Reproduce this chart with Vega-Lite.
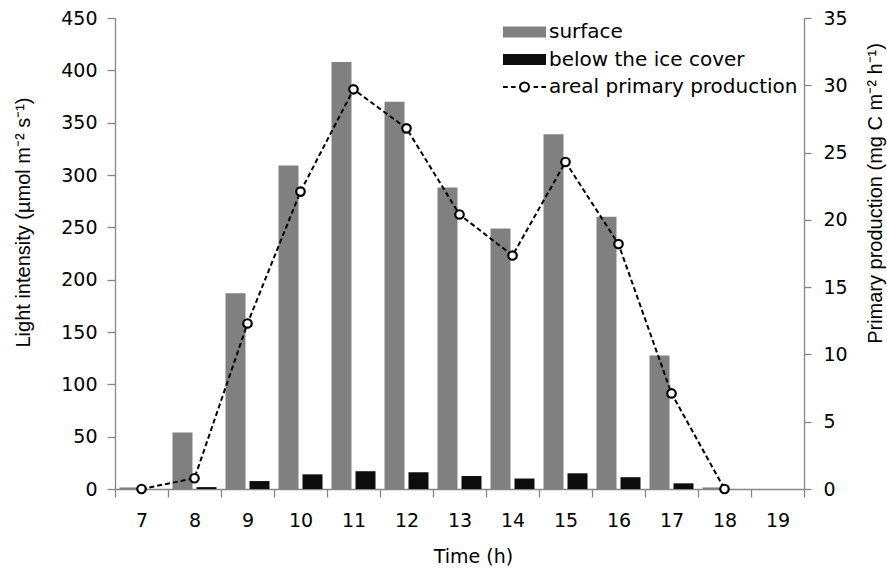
{
  "$schema": "https://vega.github.io/schema/vega-lite/v6.json",
  "width": 689,
  "height": 471,
  "autosize": {"type": "none"},
  "padding": {"left": 115, "top": 18, "right": 83, "bottom": 81},
  "background": "white",
  "datasets": {
    "light": [
      {"time": "7", "series": "surface", "light": 1.5},
      {"time": "7", "series": "below the ice cover", "light": 0},
      {"time": "8", "series": "surface", "light": 54},
      {"time": "8", "series": "below the ice cover", "light": 1.8},
      {"time": "9", "series": "surface", "light": 187},
      {"time": "9", "series": "below the ice cover", "light": 7.6},
      {"time": "10", "series": "surface", "light": 309},
      {"time": "10", "series": "below the ice cover", "light": 14},
      {"time": "11", "series": "surface", "light": 408},
      {"time": "11", "series": "below the ice cover", "light": 17},
      {"time": "12", "series": "surface", "light": 370},
      {"time": "12", "series": "below the ice cover", "light": 16},
      {"time": "13", "series": "surface", "light": 288},
      {"time": "13", "series": "below the ice cover", "light": 12.4},
      {"time": "14", "series": "surface", "light": 249},
      {"time": "14", "series": "below the ice cover", "light": 10},
      {"time": "15", "series": "surface", "light": 339},
      {"time": "15", "series": "below the ice cover", "light": 15},
      {"time": "16", "series": "surface", "light": 260},
      {"time": "16", "series": "below the ice cover", "light": 11.3},
      {"time": "17", "series": "surface", "light": 127.5},
      {"time": "17", "series": "below the ice cover", "light": 5.4},
      {"time": "18", "series": "surface", "light": 1.5},
      {"time": "18", "series": "below the ice cover", "light": 0}
    ],
    "pp": [
      {"time": "7", "pp": 0},
      {"time": "8", "pp": 0.8},
      {"time": "9", "pp": 12.3},
      {"time": "10", "pp": 22.1},
      {"time": "11", "pp": 29.7},
      {"time": "12", "pp": 26.8},
      {"time": "13", "pp": 20.4},
      {"time": "14", "pp": 17.35},
      {"time": "15", "pp": 24.3},
      {"time": "16", "pp": 18.2},
      {"time": "17", "pp": 7.1},
      {"time": "18", "pp": 0}
    ]
  },
  "config": {
    "view": {"stroke": null},
    "axis": {
      "grid": false,
      "domainColor": "#868686",
      "tickColor": "#868686",
      "domainWidth": 1.3,
      "tickWidth": 1.3,
      "labelColor": "#000000",
      "titleColor": "#000000",
      "labelFont": "DejaVu Sans",
      "labelFontSize": 19,
      "titleFont": "Liberation Sans",
      "titleFontSize": 20,
      "titleFontWeight": "normal"
    },
    "legend": {
      "labelFont": "DejaVu Sans",
      "labelFontSize": 20,
      "labelColor": "#000000",
      "labelLimit": 400
    }
  },
  "layer": [
    {
      "data": {"name": "light"},
      "mark": {"type": "bar"},
      "encoding": {
        "x": {
          "field": "time",
          "type": "ordinal",
          "scale": {
            "domain": ["7", "8", "9", "10", "11", "12", "13", "14", "15", "16", "17", "18", "19"],
            "paddingInner": 0,
            "paddingOuter": 0
          },
          "axis": {
            "title": "Time (h)",
            "titleFont": "DejaVu Sans",
            "titleFontSize": 19,
            "titleX": 358,
            "titleY": 73,
            "titleAlign": "center",
            "titleBaseline": "alphabetic",
            "labelAngle": 0,
            "tickBand": "extent",
            "tickSize": 8,
            "labelPadding": 14
          }
        },
        "xOffset": {
          "field": "series",
          "type": "nominal",
          "scale": {"domain": ["surface", "below the ice cover"], "paddingInner": 0.167, "paddingOuter": 0.1875}
        },
        "y": {
          "field": "light",
          "type": "quantitative",
          "scale": {"domain": [0, 450], "nice": false},
          "axis": {
            "values": [0, 50, 100, 150, 200, 250, 300, 350, 400, 450],
            "title": "Light intensity (µmol m⁻² s⁻¹)",
            "tickSize": 8,
            "labelPadding": 10,
            "titleAngle": 270,
            "titleX": -86,
            "titleY": 204,
            "titleAlign": "center",
            "titleBaseline": "alphabetic"
          }
        },
        "color": {
          "field": "series",
          "type": "nominal",
          "scale": {
            "domain": ["surface", "below the ice cover", "areal primary production"],
            "range": ["#808080", "#0d0d0d", "#ffffff"]
          },
          "legend": {
            "title": null,
            "orient": "none",
            "legendX": 384,
            "legendY": 4,
            "padding": 0,
            "symbolSize": 144,
            "labelOffset": 30,
            "rowPadding": 7.5,
            "encode": {
              "symbols": {
                "update": {
                  "shape": {"signal": "datum.value === 'areal primary production' ? 'M-1,0H-0.2M0.35,0H1.1M1.833,0C1.833,-0.414 2.169,-0.75 2.583,-0.75C2.997,-0.75 3.333,-0.414 3.333,0C3.333,0.414 2.997,0.75 2.583,0.75C2.169,0.75 1.833,0.414 1.833,0ZM4.1,0H4.85M5.4,0H6.167' : 'M-1,-0.917H6.167V0.917H-1Z'"},
                  "fill": {"signal": "datum.value === 'surface' ? '#808080' : datum.value === 'below the ice cover' ? '#0d0d0d' : '#ffffff'"},
                  "stroke": {"signal": "datum.value === 'areal primary production' ? '#000000' : 'transparent'"},
                  "strokeWidth": {"signal": "datum.value === 'areal primary production' ? 2 : 0"},
                  "opacity": {"value": 1},
                  "fillOpacity": {"value": 1}
                }
              }
            }
          }
        }
      }
    },
    {
      "data": {"name": "pp"},
      "encoding": {
        "x": {"field": "time", "type": "ordinal"},
        "y": {
          "field": "pp",
          "type": "quantitative",
          "scale": {"domain": [0, 35], "nice": false},
          "axis": {
            "orient": "right",
            "values": [0, 5, 10, 15, 20, 25, 30, 35],
            "title": "Primary production (mg C m⁻² h⁻¹)",
            "tickSize": 7,
            "labelPadding": 12,
            "titleAngle": 270,
            "titleX": 77,
            "titleY": 175,
            "titleAlign": "center",
            "titleBaseline": "alphabetic"
          }
        }
      },
      "layer": [
        {"mark": {"type": "line", "color": "#000000", "strokeDash": [5, 3], "strokeWidth": 2}},
        {"mark": {"type": "point", "shape": "circle", "filled": true, "fill": "#ffffff", "stroke": "#000000", "strokeWidth": 2.2, "size": 72, "opacity": 1}}
      ]
    }
  ],
  "resolve": {"scale": {"y": "independent"}}
}
